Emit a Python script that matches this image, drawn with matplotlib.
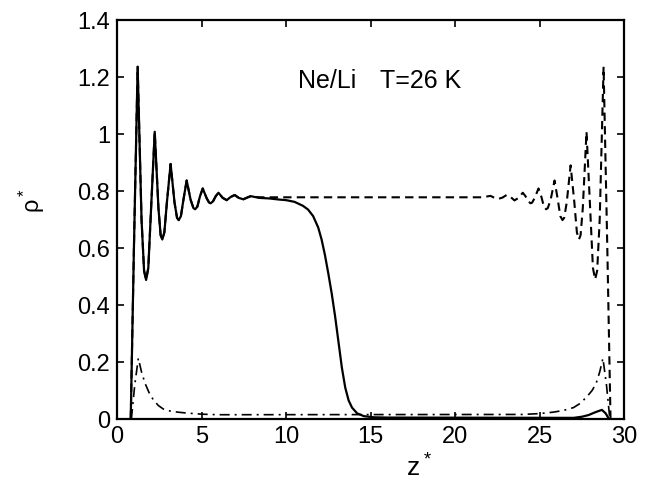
import numpy as np
import matplotlib
matplotlib.use('Agg')
import matplotlib.pyplot as plt

plt.rcParams['font.family'] = ['Liberation Sans', 'DejaVu Sans']
plt.rcParams['mathtext.default'] = 'regular'

# solid curve (left liquid, small bump at right wall)
z_solid = [0.81, 1.0, 1.22, 1.45, 1.6, 1.72, 1.85, 2.0, 2.23, 2.45, 2.58, 2.68, 2.8, 2.95,
           3.17, 3.4, 3.55, 3.65, 3.78, 3.93, 4.12, 4.35, 4.52, 4.62, 4.75, 4.9, 5.07,
           5.3, 5.45, 5.54, 5.68, 5.84, 6.0, 6.25, 6.49, 6.72, 6.96, 7.2, 7.47, 7.7, 7.91,
           8.4, 9.0, 9.6, 10.0, 10.5, 11.0, 11.3, 11.6, 11.9, 12.1, 12.3, 12.5, 12.7,
           12.9, 13.1, 13.3, 13.5, 13.7, 13.9, 14.2, 14.6, 15.2, 16.0, 27.0, 27.5, 27.9,
           28.3, 28.68, 28.9, 29.1]
rho_solid = [0.0, 0.6, 1.236, 0.7, 0.52, 0.488, 0.53, 0.72, 1.008, 0.74, 0.645, 0.63, 0.655, 0.76,
             0.895, 0.76, 0.706, 0.698, 0.712, 0.77, 0.837, 0.77, 0.74, 0.736, 0.745, 0.78, 0.809,
             0.775, 0.759, 0.757, 0.764, 0.782, 0.794, 0.776, 0.768, 0.779, 0.786, 0.776, 0.771, 0.777, 0.782,
             0.776, 0.774, 0.770, 0.768, 0.762, 0.748, 0.735, 0.712, 0.672, 0.63, 0.575, 0.51, 0.44,
             0.36, 0.27, 0.18, 0.11, 0.065, 0.04, 0.02, 0.01, 0.006, 0.005, 0.004, 0.008, 0.014,
             0.024, 0.032, 0.02, 0.0]

# dashed curve (follows the solid on the left, flat bulk, oscillations at right wall)
z_dash = [0.81, 1.0, 1.22, 1.45, 1.6, 1.72, 1.85, 2.0, 2.23, 2.45, 2.58, 2.68, 2.8, 2.95,
          3.17, 3.4, 3.55, 3.65, 3.78, 3.93, 4.12, 4.35, 4.52, 4.62, 4.75, 4.9, 5.07,
          5.3, 5.45, 5.54, 5.68, 5.84, 6.0, 6.25, 6.49, 6.72, 6.96, 7.2, 7.47, 7.7, 7.91,
          8.4, 21.6, 22.09, 22.3, 22.53, 22.8, 23.04, 23.28, 23.51, 23.75, 24.0, 24.16,
          24.32, 24.46, 24.55, 24.7, 24.93, 25.1, 25.25, 25.38, 25.48, 25.65, 25.88, 26.07,
          26.22, 26.35, 26.45, 26.6, 26.83, 27.05, 27.2, 27.32, 27.42, 27.55, 27.77, 28.0,
          28.15, 28.28, 28.4, 28.55, 28.78, 29.0, 29.19]
rho_dash = [0.0, 0.6, 1.236, 0.7, 0.52, 0.488, 0.53, 0.72, 1.008, 0.74, 0.645, 0.63, 0.655, 0.76,
            0.895, 0.76, 0.706, 0.698, 0.712, 0.77, 0.837, 0.77, 0.74, 0.736, 0.745, 0.78, 0.809,
            0.775, 0.759, 0.757, 0.764, 0.782, 0.794, 0.776, 0.768, 0.779, 0.786, 0.776, 0.771, 0.777, 0.782,
            0.778, 0.778, 0.783, 0.777, 0.772, 0.777, 0.786, 0.779, 0.767, 0.776, 0.794, 0.782,
            0.764, 0.757, 0.759, 0.775, 0.809, 0.78, 0.745, 0.736, 0.74, 0.77, 0.837, 0.77,
            0.712, 0.698, 0.706, 0.76, 0.89, 0.76, 0.655, 0.63, 0.645, 0.74, 1.008, 0.72,
            0.53, 0.49, 0.52, 0.7, 1.236, 0.6, 0.0]

# dash-dot curve (vapour, peaks at both walls)
z_vap = [0.85, 1.05, 1.26, 1.45, 1.66, 1.9, 2.15, 2.45, 2.74, 3.14, 3.6, 4.1, 5.0, 6.0,
         24.0, 25.0, 25.8, 26.4, 27.0, 27.4, 27.79, 28.1, 28.34, 28.55, 28.74, 28.95, 29.15]
rho_vap = [0.0, 0.12, 0.213, 0.165, 0.125, 0.092, 0.067, 0.047, 0.035, 0.028, 0.024, 0.021, 0.017, 0.015,
           0.016, 0.019, 0.024, 0.03, 0.040, 0.055, 0.078, 0.1, 0.125, 0.165, 0.213, 0.12, 0.0]

xticks = [0, 5, 10, 15, 20, 25, 30]
yticks = [0, 0.2, 0.4, 0.6, 0.8, 1.0, 1.2, 1.4]
ytick_labels = ['0', '0.2', '0.4', '0.6', '0.8', '1', '1.2', '1.4']

fig = plt.figure(figsize=(6.63, 4.83), dpi=100)
ax = fig.add_axes([0.1765, 0.1325, 0.765, 0.826])

ax.plot(z_vap, rho_vap, color='black', lw=1.2, dashes=(6, 3, 1.2, 3), solid_joinstyle='round')
ax.plot(z_dash, rho_dash, color='black', lw=1.5, dashes=(4, 2.5), dash_joinstyle='round')
ax.plot(z_solid, rho_solid, color='black', lw=1.6, solid_joinstyle='round')

ax.set_xlim(0, 30)
ax.set_ylim(0, 1.4)
ax.set_xticks(xticks)
ax.set_xticklabels([str(t) for t in xticks])
ax.set_yticks(yticks)
ax.set_yticklabels(ytick_labels)
ax.tick_params(direction='in', length=5, width=1.2, top=True, right=True, labelsize=17)
ax.tick_params(axis='x', pad=5)
ax.tick_params(axis='y', pad=5)
for s in ax.spines.values():
    s.set_linewidth(1.6)

ax.text(10.71, 1.161, 'Ne/Li', fontsize=18, ha='left', va='baseline')
ax.text(15.56, 1.161, 'T=26 K', fontsize=18, ha='left', va='baseline')

ax.set_xlabel(r'$z^*$', fontsize=19)
ax.set_ylabel(r'$\rho^*$', fontsize=17)
ax.xaxis.set_label_coords(0.596, -0.088)
ax.yaxis.set_label_coords(-0.138, 0.549)

fig.savefig('out.png', dpi=100)
